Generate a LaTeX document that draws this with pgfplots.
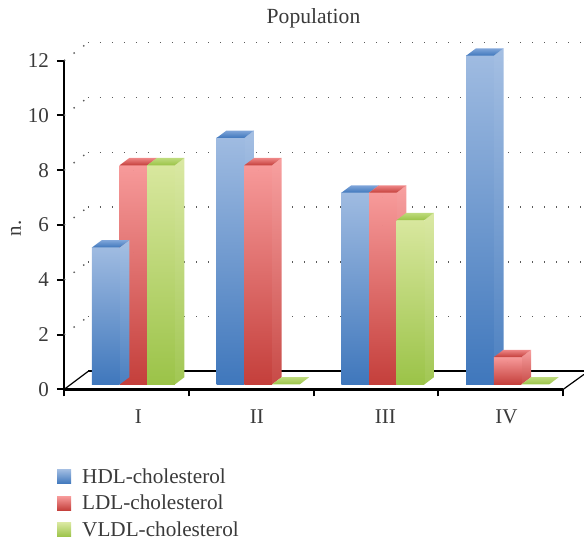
\documentclass[border=0pt]{standalone}
\usepackage{pgfplots}
\pgfplotsset{compat=1.18}
\usepackage{fontspec}
\setmainfont{Liberation Serif}

\definecolor{txt}{HTML}{3A3A3A}
\definecolor{griddot}{HTML}{5A5A5A}
\definecolor{bluetop}{HTML}{9FBBE1}
\definecolor{bluebot}{HTML}{3F77BC}
\definecolor{blueback}{HTML}{7FA5D9}
\definecolor{redtop}{HTML}{F79A9A}
\definecolor{redbot}{HTML}{C43F3B}
\definecolor{redback}{HTML}{EE8686}
\definecolor{greentop}{HTML}{D8E79E}
\definecolor{greenbot}{HTML}{9BC348}
\definecolor{greenback}{HTML}{BEDB7C}

% 1pt in the file is 1px in the reference: bar width 27.6, depth 9.7 by 7.3, lift 5
\pgfplotsset{
  % one 3d bar hung on each data point; #1 = right edge of the front face from the point
  % marks are painted in plot order, after all paths, so all three faces go here
  bars3d/.style n args={2}{
    forget plot, only marks, mark=*, mark size=0pt, draw=none,
    scatter, scatter src=y,
    visualization depends on={rawy \as \rawv},
    scatter/@pre marker code/.code={
      \pgfmathsetmacro\barh{\rawv*27.4}
      \ifdim\barh pt>0pt
        \shade[top color=#2top!94!white,bottom color=#2bot!94!white]
          (#1pt,5pt) -- (#1pt+9.7pt,12.3pt) -- (#1pt+9.7pt,12.3pt-\barh pt) -- (#1pt,5pt-\barh pt) -- cycle;
        \shade[top color=#2top,bottom color=#2bot]
          (#1pt-27.6pt,5pt) -- (#1pt,5pt) -- (#1pt,5pt-\barh pt) -- (#1pt-27.6pt,5pt-\barh pt) -- cycle;
      \fi
      \shade[top color=#2back,bottom color=#2bot]
        (#1pt,5pt) -- (#1pt+9.7pt,12.3pt) -- (#1pt-17.9pt,12.3pt) -- (#1pt-27.6pt,5pt) -- cycle;
    },
    scatter/@post marker code/.code={},
  },
  wall/.style={forget plot, griddot, line width=1.4pt, dash pattern=on 1.4pt off 10.6pt},
  wallshift/.style={wall, xshift=24pt, yshift=18pt},
}

\begin{document}
\begin{tikzpicture}
\path[use as bounding box] (-64pt,-153.5pt) rectangle (520pt,389.5pt);
\begin{axis}[
    scale only axis,
    width=499pt,
    height=328.8pt,
    clip=false,
    xmin=0.444, xmax=4.444,
    ymin=0, ymax=12,
    axis lines*=left,
    axis line style={black, line width=2.2pt, -},
    xtick={0.444,1.444,2.444,3.444,4.444},
    xticklabels={},
    extra x ticks={1.04,1.99,3.02,3.99},
    extra x tick labels={I,II,III,IV},
    extra x tick style={major tick length=0pt, tick style={draw=none}, xticklabel style={yshift=-17pt}},
    ytick={0,2,...,12},
    major tick length=7pt,
    tick style={black, line width=2pt},
    tick align=outside,
    /pgf/number format/assume math mode=true,
    tick label style={font=\fontsize{21}{24}\selectfont, text=txt},
    yticklabel style={xshift=-4.5pt},
    ylabel={n.},
    ylabel style={font=\fontsize{21}{24}\selectfont, text=txt, at={(axis description cs:-0.096,0.49)}, anchor=center},
    title={Population},
    title style={font=\fontsize{21.6}{24}\selectfont, text=txt, at={(0.5,1)}, yshift=23pt},
    legend style={draw=none, fill=none, at={(0,0)}, anchor=north west, xshift=-7pt, yshift=-77pt,
      font=\fontsize{21.2}{24}\selectfont, text=txt, row sep=6.3pt,
      legend cell align=left, inner sep=0pt},
]

% back wall
\addplot[wallshift] coordinates {(0.444,2) (4.42,2)};
\addplot[wallshift] coordinates {(0.444,4) (4.42,4)};
\addplot[wallshift] coordinates {(0.444,6) (4.42,6)};
\addplot[wallshift] coordinates {(0.444,8) (4.42,8)};
\addplot[wallshift] coordinates {(0.444,10) (4.42,10)};
\addplot[wallshift] coordinates {(0.444,12) (4.42,12)};
\addplot[wall] coordinates {(0.444,2) (0.636,2.657)};
\addplot[wall] coordinates {(0.444,4) (0.636,4.657)};
\addplot[wall] coordinates {(0.444,6) (0.636,6.657)};
\addplot[wall] coordinates {(0.444,8) (0.636,8.657)};
\addplot[wall] coordinates {(0.444,10) (0.636,10.657)};
\addplot[wall] coordinates {(0.444,12) (0.636,12.657)};
% floor
\addplot[forget plot, black, line width=1.8pt, xshift=24pt, yshift=18.2pt] coordinates {(0.444,0) (4.42,0)};
\addplot[forget plot, black, line width=1.2pt] coordinates {(0.444,0) (0.636,0.657)};
\addplot[forget plot, black, line width=1.2pt] coordinates {(4.444,0) (4.612,0.55)};

% taller bars first in each group, as in the original: blue of group I comes last
\addplot[bars3d={-13.8}{blue}] coordinates {(2,9) (3,7) (4,12)};
\addplot[bars3d={13.8}{red}] coordinates {(1,8) (2,8) (3,7) (4,1)};
\addplot[bars3d={41.4}{green}] coordinates {(1,8) (2,0) (3,6) (4,0)};
\addplot[bars3d={-13.8}{blue}] coordinates {(1,5)};

\addlegendimage{legend image code/.code={\shade[draw=none,top color=bluetop,bottom color=bluebot] (0pt,-7pt) rectangle (14pt,7pt);}}
\addlegendentry{\hspace{9pt}HDL-cholesterol}
\addlegendimage{legend image code/.code={\shade[draw=none,top color=redtop,bottom color=redbot] (0pt,-7pt) rectangle (14pt,7pt);}}
\addlegendentry{\hspace{9pt}LDL-cholesterol}
\addlegendimage{legend image code/.code={\shade[draw=none,top color=greentop,bottom color=greenbot] (0pt,-7pt) rectangle (14pt,7pt);}}
\addlegendentry{\hspace{9pt}VLDL-cholesterol}
\end{axis}
\end{tikzpicture}
\end{document}
